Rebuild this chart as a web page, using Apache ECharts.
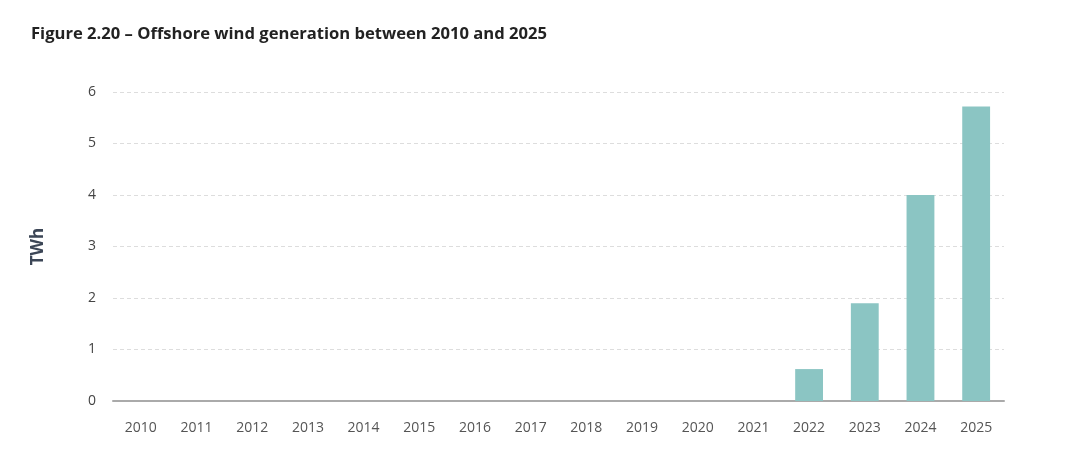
<!DOCTYPE html>
<html>
<head>
<meta charset="utf-8">
<script src="https://cdn.jsdelivr.net/npm/echarts@6/dist/echarts.min.js"></script>
<style>
html,body{margin:0;padding:0;background:#fff;}
#c{width:1090px;height:467px;}
</style>
</head>
<body>
<div id="c"></div>
<script>
var years = ['2010','2011','2012','2013','2014','2015','2016','2017','2018','2019','2020','2021','2022','2023','2024','2025'];
var generation = [0,0,0,0,0,0,0,0,0,0,0,0,0.62,1.9,4.0,5.72];
var yTicks = [0,1,2,3,4,5,6];

var chart = echarts.init(document.getElementById('c'));
chart.setOption({
  backgroundColor: '#fff',
  animation: false,
  title: {
    text: 'Figure 2.20 \u2013 Offshore wind generation between 2010 and 2025',
    left: 26, top: 21,
    textStyle: {fontFamily: 'Open Sans', fontWeight: 'bold', fontSize: 16.6, color: '#222'}
  },
  grid: {left: 113, right: 86, top: 92, bottom: 66},
  xAxis: {
    type: 'category',
    data: years,
    axisLine: {lineStyle: {color: '#aaa', width: 2}},
    axisTick: {show: false},
    axisLabel: {color: '#555', fontFamily: 'Open Sans', fontSize: 14, margin: 20}
  },
  yAxis: {
    type: 'value',
    min: yTicks[0], max: yTicks[yTicks.length-1], interval: 1,
    name: 'TWh',
    nameLocation: 'middle',
    nameGap: 66,
    nameRotate: 90,
    nameTextStyle: {fontFamily: 'Open Sans', fontWeight: 'bold', fontSize: 17, color: '#3c4656'},
    axisLine: {show: false},
    axisTick: {show: false},
    axisLabel: {color: '#444', fontFamily: 'Open Sans', fontSize: 14, margin: 17},
    splitLine: {lineStyle: {color: '#ddd', type: [4,3], width: 1}}
  },
  series: [{
    type: 'bar',
    data: generation,
    barWidth: '50%',
    itemStyle: {color: '#8bc5c3'}
  }]
});
</script>
</body>
</html>
